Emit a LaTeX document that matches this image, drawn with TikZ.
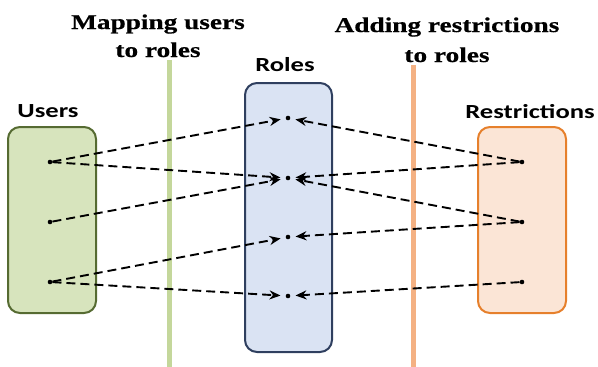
\documentclass[tikz,border=0pt]{standalone}
\usepackage{fontspec}
\usetikzlibrary{arrows.meta}
\newfontfamily\labfont[FakeStretch=1.33]{Carlito}
\newfontfamily\titfont[FakeStretch=1.3,FakeBold=0.6]{Liberation Serif}
\definecolor{ufill}{HTML}{D7E4BD}
\definecolor{uedge}{HTML}{566B32}
\definecolor{rfill}{HTML}{DAE3F3}
\definecolor{redge}{HTML}{2F3F5F}
\definecolor{sfill}{HTML}{FBE5D6}
\definecolor{sedge}{HTML}{E6802C}
\definecolor{gline}{HTML}{C4D79B}
\definecolor{oline}{HTML}{F4B183}
\begin{document}
\begin{tikzpicture}[x=1pt,y=-1pt,
  box/.style={draw,line width=2pt,rounded corners=12pt},
  lab/.style={font=\labfont\bfseries\fontsize{20}{22}\selectfont,anchor=base,inner sep=0pt},
  tit/.style={font=\titfont\bfseries\fontsize{21}{23}\selectfont,anchor=base,inner sep=0pt},
  pt/.style={circle,fill=black,inner sep=0pt,minimum size=4.6pt},
  conn/.style={dash pattern=on 9pt off 5pt,line width=1.9pt,-{Stealth[length=11pt,width=9pt,inset=3.5pt]},shorten >=5pt}]
\useasboundingbox (0,0) rectangle (598,367);
% separators
\draw[gline,line width=5pt] (169,60) coordinate (g1) -- (169,367) coordinate (g2);
\draw[oline,line width=5pt] (413,65) coordinate (o1) -- (413,367) coordinate (o2);
% boxes
\draw[box,uedge,fill=ufill] (8,127) rectangle (96,313);
\draw[box,redge,fill=rfill] (245,83) rectangle (332,352);
\draw[box,sedge,fill=sfill] (478,127) rectangle (566,313);
% labels
\node[tit] (t1) at (158,29) {Mapping users};
\node[tit] (t2) at (158,57) {to roles};
\node[tit] (t3) at (447,32) {Adding restrictions};
\node[tit] (t4) at (447,62) {to roles};
\node[lab] (lu) at (48,117) {Users};
\node[lab] (lr) at (285,71) {Roles};
\node[lab] (ls) at (530,118) {Restrictions};
% dots
\node[pt] (u1) at (50,162) {};
\node[pt] (u2) at (50,222) {};
\node[pt] (u3) at (50,282) {};
\node[pt] (r1) at (288,118) {};
\node[pt] (r2) at (288,178) {};
\node[pt] (r3) at (288,237) {};
\node[pt] (r4) at (288,296) {};
\node[pt] (s1) at (522,162) {};
\node[pt] (s2) at (522,222) {};
\node[pt] (s3) at (522,282) {};
% connectors
\draw[conn] (u1) -- (r1);
\draw[conn] (u1) -- (r2);
\draw[conn] (u2) -- (r2);
\draw[conn] (u3) -- (r3);
\draw[conn] (u3) -- (r4);
\draw[conn] (s1) -- (r1);
\draw[conn] (s1) -- (r2);
\draw[conn] (s2) -- (r2);
\draw[conn] (s2) -- (r3);
\draw[conn] (s3) -- (r4);
\end{tikzpicture}
\end{document}
